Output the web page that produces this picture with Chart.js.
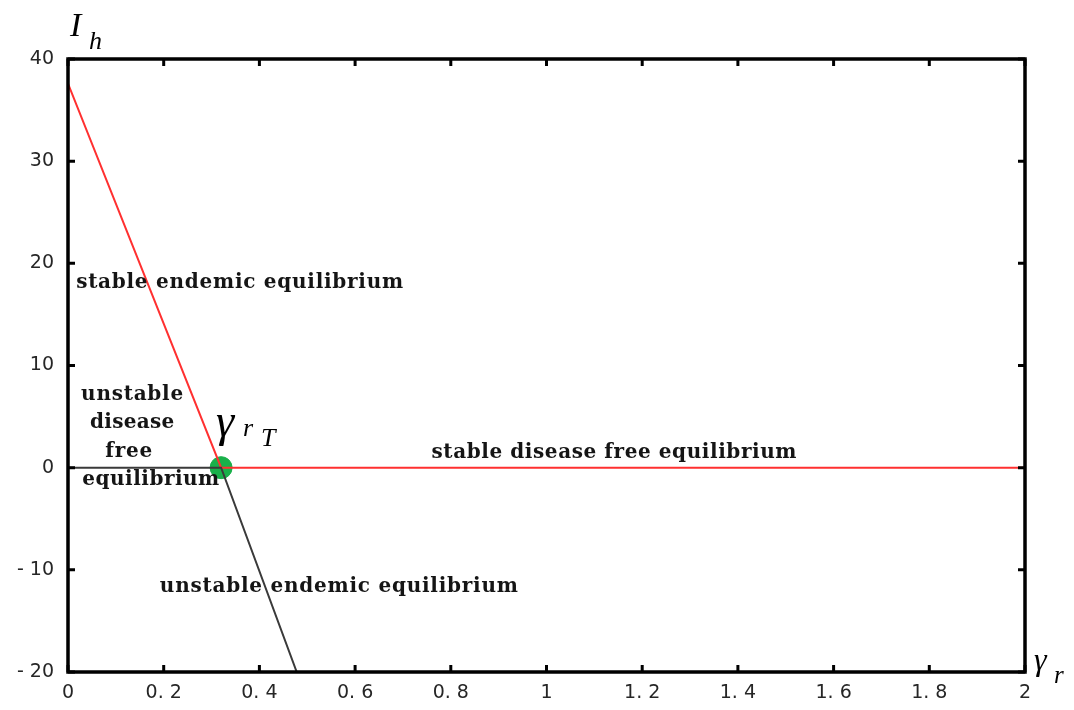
<!DOCTYPE html>
<html>
<head>
<meta charset="utf-8">
<script src="https://cdn.jsdelivr.net/npm/chart.js@4"></script>
<style>
  html, body { margin: 0; padding: 0; background: #fff; }
  #wrap { width: 1074px; height: 710px; }
</style>
</head>
<body>
<div id="wrap"><canvas id="bifurcation"></canvas></div>
<script>
// stable branch (red): endemic branch down to threshold, then disease free
const stableX = [0, 0.32, 2];
const stableY = [37.6, 0, 0];
// unstable branch (black): disease free left of threshold, endemic below
const unstableX = [0, 0.32, 0.478];
const unstableY = [0, 0, -20];
// transcritical point
const thresholdX = [0.32];
const thresholdY = [0];

const xTicks = [0, 0.2, 0.4, 0.6, 0.8, 1, 1.2, 1.4, 1.6, 1.8, 2];
const xTickLabels = ['0', '0. 2', '0. 4', '0. 6', '0. 8', '1', '1. 2', '1. 4', '1. 6', '1. 8', '2'];
const yTicks = [-20, -10, 0, 10, 20, 30, 40];
const yTickLabels = ['- 20', '- 10', '0', '10', '20', '30', '40'];

function pts(xs, ys) {
  return xs.map((x, i) => ({ x: x, y: ys[i] }));
}

// region labels: text, x, y (data units), width in px, alignment
const regionLabels = [
  ['stable endemic equilibrium', 0.017, 17.6, 327, 'left'],
  ['unstable', 0.134, 6.6, 102, 'center'],
  ['disease', 0.134, 3.9, 84, 'center'],
  ['free', 0.127, 1.0, 47, 'center'],
  ['equilibrium', 0.173, -1.7, 137, 'center'],
  ['stable disease free equilibrium', 1.141, 0.95, 365, 'center'],
  ['unstable endemic equilibrium', 0.566, -12.2, 358, 'center']
];

const boxPlugin = {
  id: 'boxPlugin',
  afterDraw(chart) {
    const ctx = chart.ctx;
    const a = chart.chartArea;
    const xs = chart.scales.x, ys = chart.scales.y;
    ctx.save();
    // inside ticks on all four sides
    ctx.strokeStyle = '#000';
    ctx.lineWidth = 3;
    xTicks.forEach(v => {
      const px = xs.getPixelForValue(v);
      ctx.beginPath();
      ctx.moveTo(px, a.bottom); ctx.lineTo(px, a.bottom - 7);
      ctx.moveTo(px, a.top); ctx.lineTo(px, a.top + 7);
      ctx.stroke();
    });
    yTicks.forEach(v => {
      const py = ys.getPixelForValue(v);
      ctx.beginPath();
      ctx.moveTo(a.left, py); ctx.lineTo(a.left + 7, py);
      ctx.moveTo(a.right, py); ctx.lineTo(a.right - 7, py);
      ctx.stroke();
    });
    ctx.lineWidth = 3.5;
    ctx.strokeRect(a.left, a.top, a.right - a.left, a.bottom - a.top);

    // region labels
    ctx.fillStyle = '#151515';
    ctx.textBaseline = 'alphabetic';
    ctx.textAlign = 'left';
    regionLabels.forEach(l => {
      ctx.font = 'bold 20px "DejaVu Serif", "Liberation Serif", serif';
      ctx.letterSpacing = '0px';
      const w = ctx.measureText(l[0]).width;
      const sp = (l[3] - w) / (l[0].length - 1);
      ctx.letterSpacing = sp.toFixed(2) + 'px';
      const px = xs.getPixelForValue(l[1]);
      const py = ys.getPixelForValue(l[2]);
      const left = l[4] === 'center' ? px - l[3] / 2 : px;
      ctx.fillText(l[0], left, py);
    });
    ctx.letterSpacing = '0px';

    // threshold label
    const gx = xs.getPixelForValue(0.32), gy = ys.getPixelForValue(0);
    ctx.fillStyle = '#000';
    ctx.font = 'italic 46px "Liberation Serif", serif';
    ctx.fillText('\u03b3', gx - 5, gy - 32);
    ctx.font = 'italic 26px "Liberation Serif", serif';
    ctx.fillText('r', gx + 22, gy - 32);
    ctx.fillText('T', gx + 40, gy - 22);

    // axis titles
    ctx.font = 'italic 34px "Liberation Serif", serif';
    ctx.fillText('I', 70, 36);
    ctx.font = 'italic 26px "Liberation Serif", serif';
    ctx.fillText('h', 89, 49);
    ctx.font = 'italic 32px "Liberation Serif", serif';
    ctx.fillText('\u03b3', 1034, 670);
    ctx.font = 'italic 25px "Liberation Serif", serif';
    ctx.fillText('r', 1054, 683);
    ctx.restore();
  }
};

new Chart(document.getElementById('bifurcation'), {
  type: 'scatter',
  data: {
    datasets: [
      {
        data: pts(unstableX, unstableY),
        showLine: true,
        borderColor: '#3a3a3a',
        borderWidth: 2,
        pointRadius: 0
      },
      {
        data: pts(stableX, stableY),
        showLine: true,
        borderColor: '#ff3030',
        borderWidth: 2,
        pointRadius: 0
      },
      {
        data: pts(thresholdX, thresholdY),
        showLine: false,
        backgroundColor: '#19b04a',
        borderColor: '#19b04a',
        pointRadius: 11,
        pointHoverRadius: 11
      }
    ]
  },
  options: {
    responsive: true,
    maintainAspectRatio: false,
    animation: false,
    layout: { padding: { top: 59, right: 49, left: 0, bottom: 0 } },
    plugins: { legend: { display: false }, tooltip: { enabled: false } },
    scales: {
      x: {
        type: 'linear',
        min: 0,
        max: 2,
        afterBuildTicks: s => { s.ticks = xTicks.map(v => ({ value: v })); },
        afterFit: s => { s.height = 38; },
        grid: { display: false, drawTicks: false },
        border: { display: false },
        ticks: {
          padding: 10,
          maxRotation: 0,
          autoSkip: false,
          color: '#262626',
          font: { family: '"DejaVu Sans", sans-serif', size: 19 },
          callback: v => xTickLabels[xTicks.indexOf(v)]
        }
      },
      y: {
        type: 'linear',
        min: -20,
        max: 40,
        afterBuildTicks: s => { s.ticks = yTicks.map(v => ({ value: v })); },
        afterFit: s => { s.width = 68; },
        grid: { display: false, drawTicks: false },
        border: { display: false },
        ticks: {
          padding: 14,
          autoSkip: false,
          color: '#262626',
          font: { family: '"DejaVu Sans", sans-serif', size: 19 },
          callback: v => yTickLabels[yTicks.indexOf(v)]
        }
      }
    }
  },
  plugins: [boxPlugin]
});
</script>
</body>
</html>
